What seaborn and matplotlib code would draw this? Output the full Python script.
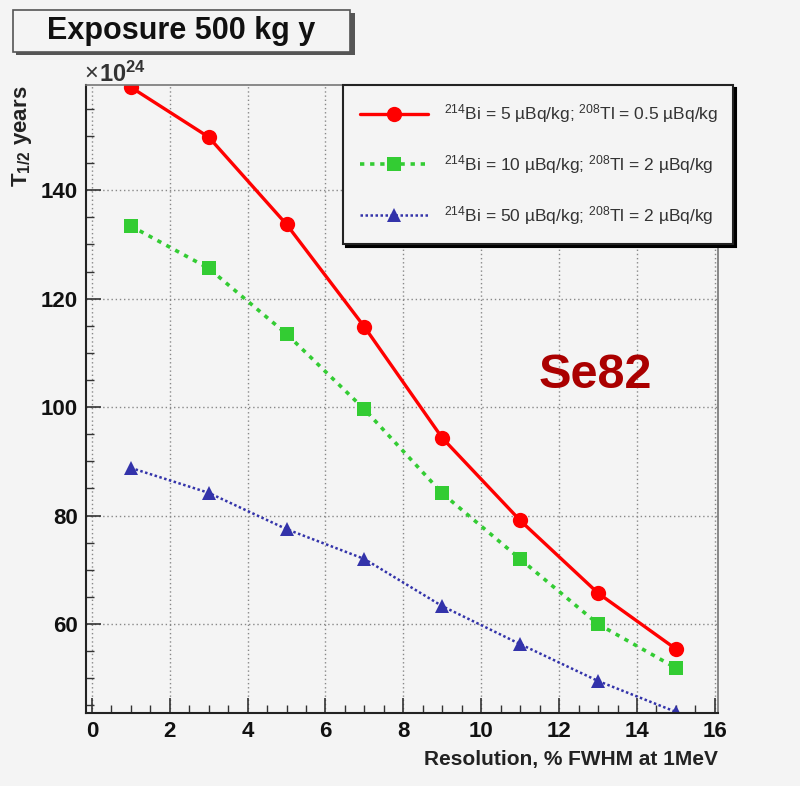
import numpy as np
import pandas as pd
import matplotlib
matplotlib.use("Agg")
import matplotlib.pyplot as plt
import seaborn as sns
from matplotlib.ticker import MultipleLocator
from matplotlib.patches import Rectangle

resolution = [1, 3, 5, 7, 9, 11, 13, 15]
t_bi5 = [159.0, 149.8, 133.7, 114.8, 94.3, 79.1, 65.7, 55.4]
t_bi10 = [133.4, 125.6, 113.5, 99.6, 84.1, 72.0, 60.0, 51.9]
t_bi50 = [88.8, 84.2, 77.5, 72.0, 63.3, 56.3, 49.5, 43.8]
labels = [r"$^{214}$Bi = 5 µBq/kg; $^{208}$Tl = 0.5 µBq/kg",
          r"$^{214}$Bi = 10 µBq/kg; $^{208}$Tl = 2 µBq/kg",
          r"$^{214}$Bi = 50 µBq/kg; $^{208}$Tl = 2 µBq/kg"]
x_ticks = [0, 2, 4, 6, 8, 10, 12, 14, 16]
y_ticks = [60, 80, 100, 120, 140]

sns.set_theme(style="white")
plt.rcParams['font.family'] = ['Liberation Sans', 'DejaVu Sans']
plt.rcParams['mathtext.fontset'] = 'custom'
plt.rcParams['mathtext.rm'] = 'Liberation Sans'
plt.rcParams['mathtext.it'] = 'Liberation Sans:italic'
plt.rcParams['mathtext.bf'] = 'Liberation Sans:bold'

bg = "#f4f4f4"
fig = plt.figure(figsize=(8.0, 7.86), dpi=100, facecolor=bg)
ax = fig.add_axes([86/800, 1-713/786, (718-86)/800, (713-85)/786])
ax.set_facecolor(bg)

styles = [
    dict(color="#ff0000", linestyle="-", linewidth=2.4, marker="o", markersize=11),
    dict(color="#33cc33", linestyle=(0, (1.2, 1.6)), linewidth=2.6, marker="s", markersize=10),
    dict(color="#3333aa", linestyle=(0, (1, 1)), linewidth=1.8, marker="^", markersize=10.5),
]
series = [t_bi5, t_bi10, t_bi50]
for ys, st, lab in zip(series, styles, labels):
    df = pd.DataFrame({"x": resolution, "y": ys})
    sns.lineplot(data=df, x="x", y="y", ax=ax, label=lab,
                 markeredgewidth=0, markeredgecolor=st["color"], **st)

ax.set_xlim(-0.15, 16.08)
ax.set_ylim(43.6, 159.4)
ax.set_xticks(x_ticks)
ax.set_yticks(y_ticks)
ax.xaxis.set_minor_locator(MultipleLocator(0.5))
ax.yaxis.set_minor_locator(MultipleLocator(5))
ax.tick_params(axis="both", which="major", direction="in", length=11, width=1.2,
               labelsize=16, color="#333333", pad=6)
ax.tick_params(axis="both", which="minor", direction="in", length=6, width=1.0,
               color="#333333")
ax.tick_params(axis="x", which="both", bottom=True, top=False)
ax.tick_params(axis="y", which="both", left=True, right=False)
for lab in ax.get_xticklabels() + ax.get_yticklabels():
    lab.set_fontweight("bold")
    lab.set_color("#111111")
ax.grid(True, which="major", color="#888888", linestyle=(0, (1, 2)), linewidth=1.0)
for side in ["left", "bottom"]:
    ax.spines[side].set_color("#222222")
    ax.spines[side].set_linewidth(1.5)
for side in ["top", "right"]:
    ax.spines[side].set_color("#777777")
    ax.spines[side].set_linewidth(1.2)

ax.set_xlabel("")
ax.set_ylabel("")
fig.text(718/800, 1-760/786, "Resolution, % FWHM at 1MeV", ha="right", va="center",
         fontsize=15, fontweight="bold", color="#222222")
fig.text(22/800, 1-86/786, r"T$_{\mathbf{1/2}}$ years", ha="center", va="top", rotation=90,
         fontsize=16, fontweight="bold", color="#222222")
fig.text(84/800, 1-74/786, "×", ha="left", va="center",
         fontsize=17, color="#333333")
fig.text(99/800, 1-74/786, r"10$^{\mathbf{24}}$", ha="left", va="center",
         fontsize=17, fontweight="bold", color="#333333")

fig.text(595/800, 1-375/786, "Se82", ha="center", va="center",
         fontsize=35, fontweight="bold", color="#aa0000")

leg = ax.legend(loc="upper left", bbox_to_anchor=(343/800, 1-243/786, 390/800, 158/786),
                bbox_transform=fig.transFigure, mode="expand", borderaxespad=0,
                fontsize=12.5, frameon=True, fancybox=False,
                shadow={"color": "#000000", "alpha": 1.0},
                labelspacing=1.6, handlelength=3.9, borderpad=1.0, handletextpad=0.9,
                numpoints=1)
leg.get_frame().set_edgecolor("#222222")
leg.get_frame().set_linewidth(1.5)
leg.get_frame().set_facecolor(bg)
for t in leg.get_texts():
    t.set_color("#333333")

# title box
shadow = Rectangle((16/800, 1-55/786), (352-13)/800, (52-10)/786, transform=fig.transFigure,
                   facecolor="#555555", edgecolor="none", zorder=1)
box = Rectangle((13/800, 1-52/786), (350-13)/800, (52-10)/786, transform=fig.transFigure,
                facecolor=bg, edgecolor="#555555", linewidth=1.2, zorder=2)
fig.patches.extend([shadow, box])
fig.text(181/800, 1-31/786, "Exposure 500 kg y", ha="center", va="center",
         fontsize=22, fontweight="bold", color="#111111", zorder=3)

fig.savefig("out.png", dpi=100, facecolor=bg)
